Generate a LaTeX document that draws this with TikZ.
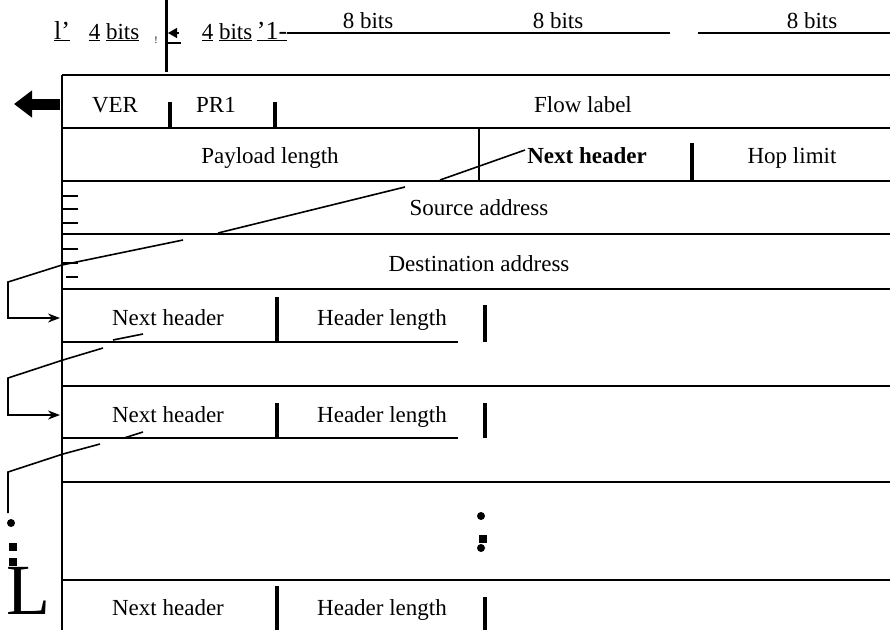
\documentclass[tikz,border=0pt]{standalone}
\usepackage{fontspec}
\setmainfont{Liberation Serif}
\usetikzlibrary{arrows.meta}
\begin{document}
\begin{tikzpicture}[x=1pt,y=-1pt,
  txt/.style={font=\fontsize{23}{27}\selectfont, inner sep=0pt, anchor=base},
  boldtxt/.style={txt, font=\fontsize{23}{27}\selectfont\bfseries},
  rowline/.style={line width=1.6pt},
  tickbar/.style={line width=4pt},
  thinline/.style={line width=1.4pt},
  chain/.style={line width=1.6pt},
  chainarrow/.style={line width=1.6pt,-{Stealth[length=12pt,width=9pt]}},
  leftmark/.style={line width=2pt},
  blob/.style={circle, fill=black, inner sep=0pt, minimum size=8pt},
  sqblob/.style={rectangle, fill=black, inner sep=0pt, minimum size=8pt}]
\useasboundingbox (0,0) rectangle (890,630);

% ---------- top annotations ----------
\node[txt, font=\fontsize{26}{30}\selectfont] (mI) at (62,39) {\underline{l'}};
\node[txt] (b1) at (114,39) {\underline{4} \underline{bits}};
\node[txt, font=\fontsize{10}{12}\selectfont] (bang) at (156,43) {!};
\draw[line width=3pt] (166,0) -- (166,72);
\coordinate (ahs) at (179,33);
\coordinate (ahe) at (168,33);
\draw[line width=1.4pt, -{Triangle[length=9pt,width=10pt]}] (ahs) -- (ahe);
\draw[line width=1.2pt] (168,43) -- (181,43);
\node[txt] (b2) at (227,39) {\underline{4} \underline{bits}};
\node[txt, font=\fontsize{26}{30}\selectfont] (m1) at (272,39) {\underline{'1-}};
\draw[thinline] (287,33) -- (670,33);
\draw[thinline] (698,33) -- (890,33);
\node[txt] (e1) at (368,28) {8 bits};
\node[txt] (e2) at (558,28) {8 bits};
\node[txt] (e3) at (812,28) {8 bits};

% ---------- table frame ----------
\draw[rowline] (62,75) -- (62,630);
\foreach \yy in {75,128,181,234,289,386,482,580}
  \draw[rowline] (62,\yy) -- (890,\yy);
\draw[rowline] (62,342) -- (458,342);
\draw[rowline] (62,438) -- (458,438);

% ---------- row 1 ----------
\coordinate (bas) at (60,104);
\coordinate (bae) at (14,104);
\draw[line width=11pt, -{Triangle[length=18pt,width=26pt]}] (bas) -- (bae);
\node[txt] (ver) at (115,112) {VER};
\draw[tickbar] (170,102) -- (170,128);
\node[txt] (pri) at (216,112) {PR1};
\draw[tickbar] (275,102) -- (275,128);
\node[txt] (flow) at (583,112) {Flow label};

% ---------- row 2 ----------
\node[txt] (pay) at (270,163) {Payload length};
\draw[thinline] (479,128) -- (479,181);
\node[boldtxt] (nh0) at (587,163) {Next header};
\draw[tickbar] (692,143) -- (692,181);
\node[txt] (hop) at (792,163) {Hop limit};

% ---------- rows 3-4 ----------
\node[txt] (src) at (479,215) {Source address};
\node[txt] (dst) at (479,271) {Destination address};
\foreach \yy in {196,209,223,249,263}
  \draw[leftmark] (63,\yy) -- (78,\yy);
\draw[leftmark] (66,277) -- (78,277);

% ---------- extension header rows ----------
\node[txt] (nh1) at (168,325) {Next header};
\draw[tickbar] (277,297) -- (277,342);
\node[txt] (hl1) at (382,325) {Header length};
\draw[tickbar] (485,305) -- (485,342);

\node[txt] (nh2) at (168,422) {Next header};
\draw[tickbar] (277,403) -- (277,438);
\node[txt] (hl2) at (382,422) {Header length};
\draw[tickbar] (485,403) -- (485,438);

\node[blob] (d1) at (481,516) {};
\node[sqblob] (d2) at (483,539) {};
\node[blob] (d3) at (481,548) {};

\node[txt] (nh3) at (168,615) {Next header};
\draw[tickbar] (277,586) -- (277,630);
\node[txt] (hl3) at (382,615) {Header length};
\draw[tickbar] (485,597) -- (485,630);

% ---------- chain of next-header pointers ----------
\coordinate (a0) at (525,150);
\coordinate (a1) at (440,180);
\coordinate (a2) at (405,187);
\coordinate (a3) at (218,233);
\coordinate (a4) at (183,240);
\coordinate (a5) at (62,265);
\coordinate (a6) at (8,282);
\coordinate (a7) at (8,318);
\coordinate (a8) at (60,318);
\draw[chain] (a0) -- (a1);
\draw[chain] (a2) -- (a3);
\draw[chainarrow] (a4) -- (a5) -- (a6) -- (a7) -- (a8);

\coordinate (c0) at (143,334);
\coordinate (c1) at (113,340);
\coordinate (c2) at (103,348);
\coordinate (c3) at (63,360);
\coordinate (c4) at (8,378);
\coordinate (c5) at (8,415);
\coordinate (c6) at (60,415);
\draw[chain] (c0) -- (c1);
\draw[chainarrow] (c2) -- (c3) -- (c4) -- (c5) -- (c6);

\coordinate (f0) at (143,432);
\coordinate (f1) at (124,438);
\coordinate (f2) at (100,444);
\coordinate (f3) at (63,454);
\coordinate (f4) at (8,472);
\coordinate (f5) at (8,513);
\draw[chain] (f0) -- (f1);
\draw[chain] (f2) -- (f3) -- (f4) -- (f5);

\node[blob] (ld1) at (11,523) {};
\node[sqblob] (ld2) at (13,547) {};
\node[sqblob] (ld3) at (13,562) {};
\node[txt, font=\fontsize{72}{80}\selectfont] (bigL) at (28,614) {L};
\end{tikzpicture}
\end{document}
